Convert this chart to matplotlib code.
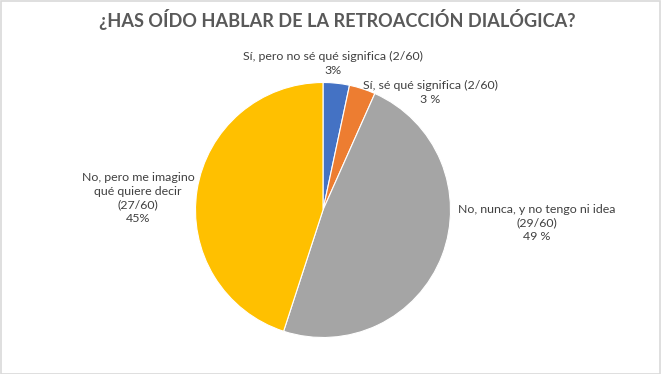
import matplotlib
matplotlib.use("Agg")
import matplotlib.pyplot as plt
from matplotlib.patches import Rectangle

plt.rcParams['font.family'] = ['Lato', 'DejaVu Sans']

categories = ["Sí, pero no sé qué significa", "Sí, sé qué significa",
              "No, nunca, y no tengo ni idea", "No, pero me imagino\nqué quiere decir"]
counts = [2, 2, 29, 27]
total = 60
pct_labels = ["3%", "3 %", "49 %", "45%"]
colors = ["#4472C4", "#ED7D31", "#A5A5A5", "#FFC000"]
title = "¿HAS OÍDO HABLAR DE LA RETROACCIÓN DIALÓGICA?"

W, H = 661, 374
fig = plt.figure(figsize=(W / 100, H / 100), dpi=100)
fig.patch.set_facecolor("white")

# pie axes: center (323, 210) px, radius ~127.5 px
cx, cy, r = 323, 210, 127.5
ax = fig.add_axes([(cx - r) / W, (H - cy - r) / H, 2 * r / W, 2 * r / H])
ax.pie(counts, colors=colors, startangle=90, counterclock=False,
       wedgeprops=dict(edgecolor="white", linewidth=0.8), radius=1)
ax.set_xlim(-1, 1)
ax.set_ylim(-1, 1)
ax.set_aspect("equal")
ax.axis("off")

fig.text(337.5 / W, 1 - 19 / H, title, ha="center", va="center",
         fontsize=13.1, fontweight="bold", color="#595959")

# label texts built from data
texts = [
    f"{categories[0]} ({counts[0]}/{total})\n{pct_labels[0]}",
    f"{categories[1]} ({counts[1]}/{total})\n{pct_labels[1]}",
    f"{categories[2]}\n({counts[2]}/{total})\n{pct_labels[2]}",
    f"{categories[3]}\n({counts[3]}/{total})\n{pct_labels[3]}",
]
positions = [(333, 63), (430, 92), (537, 223), (138, 198)]
for t, (px, py) in zip(texts, positions):
    fig.text(px / W, 1 - py / H, t, ha="center", va="center",
             fontsize=8.9, color="#404040", linespacing=1.33)

fig.patches.append(Rectangle((0.5 / W, 0.5 / H), 1 - 1.5 / W, 1 - 1.5 / H,
                             transform=fig.transFigure, fill=False,
                             edgecolor="#D9D9D9", linewidth=1.2))

fig.savefig("out.png", dpi=100)
